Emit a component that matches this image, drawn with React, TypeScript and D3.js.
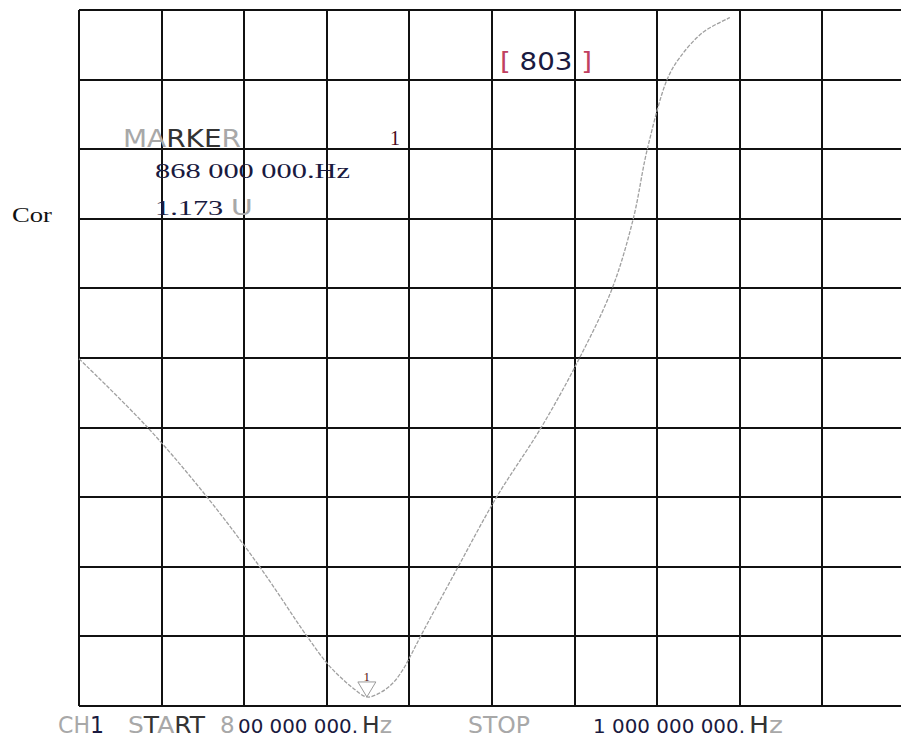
import React from "react";
import * as d3 from "d3";

const freqMHz = [800, 816.8, 831.3, 844.0, 855.1, 860.1, 863.2, 866.3, 869.7, 872.9, 876.0, 878.4, 880.1, 882.7, 891.8, 901.1, 912.0, 921.2, 929.1, 934.2, 937.6, 942.4, 945.5, 951.1, 957.6];
const traceDiv = [4.99, 3.99, 2.98, 1.98, 1.01, 0.61, 0.42, 0.26, 0.13, 0.19, 0.33, 0.52, 0.70, 1.0, 2.0, 3.0, 4.01, 5.0, 6.0, 7.0, 8.0, 9.0, 9.32, 9.68, 9.89];
const xDivs = d3.range(0, 11);
const yDivs = d3.range(0, 11);
const startLabel = "800 000 000.";
const stopLabel = "1 000 000 000.";
const markerFreqLabel = "868  000  000.";
const markerValueLabel = "1.173";
const pointsLabel = "803";

export default function App() {
  const W = 901, H = 739;
  const x = d3.scaleLinear().domain([800, 1000]).range([79, 905]);
  const y = d3.scaleLinear().domain([0, 10]).range([706, 10]);
  const gx = d3.scaleLinear().domain([0, 10]).range([79, 905]);
  const data = freqMHz.map((f, i) => [f, traceDiv[i]] as [number, number]);
  const line = d3.line<[number, number]>().x(d => x(d[0])).y(d => y(d[1])).curve(d3.curveCatmullRom.alpha(0.5));
  const minIdx = d3.minIndex(traceDiv);
  const mx = x(freqMHz[minIdx]);
  const my = y(traceDiv[minIdx]);
  const sans = "'DejaVu Sans', sans-serif";
  const serif = "'Liberation Serif', 'DejaVu Serif', serif";
  const light = "#a8a8a8";
  const navy = "#1a1a40";
  const by = 733;
  return (
    <svg width={W} height={H} style={{ position: "absolute", left: 0, top: 0, background: "#fff" }}>
      <g stroke="#111" strokeWidth={2} shapeRendering="crispEdges">
        {xDivs.map(d => (
          <line key={"v" + d} x1={gx(d)} x2={gx(d)} y1={y(0)} y2={y(10)} />
        ))}
        {yDivs.map(d => (
          <line key={"h" + d} x1={gx(0)} x2={W + 10} y1={y(d)} y2={y(d)} />
        ))}
      </g>
      <path d={line(data) || ""} fill="none" stroke="#a0a0a0" strokeWidth={1.3} strokeDasharray="4 1.5" />
      <path d={`M${mx - 9},${my - 15} L${mx + 9},${my - 15} L${mx},${my} Z`} fill="none" stroke="#9a9a9a" strokeWidth={1} />
      <text x={mx} y={my - 16} fontFamily={serif} fontSize={13} fill="#5a1010" textAnchor="middle">1</text>

      <text x={12} y={222} fontFamily={serif} fontSize={22} fill="#111" textLength={40} lengthAdjust="spacingAndGlyphs">Cor</text>

      <text x={123} y={147} fontFamily={sans} fontSize={25} textLength={118} lengthAdjust="spacingAndGlyphs">
        <tspan fill={light}>MA</tspan><tspan fill="#333">RKE</tspan><tspan fill={light}>R</tspan>
      </text>
      <text x={390} y={145} fontFamily={serif} fontSize={20} fill="#4a0a20">1</text>
      <text x={155} y={178} fontFamily={serif} fontSize={21} fill={navy} textLength={195} lengthAdjust="spacingAndGlyphs">{markerFreqLabel + "Hz"}</text>
      <text x={155} y={215} fontFamily={serif} fontSize={21} textLength={98} lengthAdjust="spacingAndGlyphs">
        <tspan fill={navy}>{markerValueLabel + " "}</tspan><tspan fill={light} fontFamily={sans}>U</tspan>
      </text>

      <text x={500} y={70} fontFamily={sans} fontSize={25} textLength={92} lengthAdjust="spacingAndGlyphs">
        <tspan fill="#c04060">[</tspan><tspan fill={navy}>{" " + pointsLabel + " "}</tspan><tspan fill="#c04060">]</tspan>
      </text>

      <text x={58} y={by} fontFamily={sans} fontSize={23} textLength={46} lengthAdjust="spacingAndGlyphs">
        <tspan fill={light}>CH</tspan><tspan fill={navy}>1</tspan>
      </text>
      <text x={128} y={by} fontFamily={sans} fontSize={23} textLength={77} lengthAdjust="spacingAndGlyphs">
        <tspan fill={light}>S</tspan><tspan fill="#333">T</tspan><tspan fill={light}>A</tspan><tspan fill="#333">RT</tspan>
      </text>
      <text x={220} y={by} fontFamily={sans} fontSize={23} fill={light}>{startLabel[0]}</text>
      <text x={238} y={by} fontFamily={sans} fontSize={20} fill={navy} textLength={120} lengthAdjust="spacingAndGlyphs">{startLabel.slice(1)}</text>
      <text x={362} y={by} fontFamily={sans} fontSize={23} textLength={30} lengthAdjust="spacingAndGlyphs">
        <tspan fill="#333">H</tspan><tspan fill={light}>z</tspan>
      </text>

      <text x={468} y={by} fontFamily={sans} fontSize={23} fill={light} textLength={62} lengthAdjust="spacingAndGlyphs">STOP</text>
      <text x={593} y={by} fontFamily={sans} fontSize={20} fill={navy} textLength={152} lengthAdjust="spacingAndGlyphs">{stopLabel}</text>
      <text x={749} y={by} fontFamily={sans} fontSize={23} textLength={34} lengthAdjust="spacingAndGlyphs">
        <tspan fill="#333">H</tspan><tspan fill={light}>z</tspan>
      </text>
    </svg>
  );
}
